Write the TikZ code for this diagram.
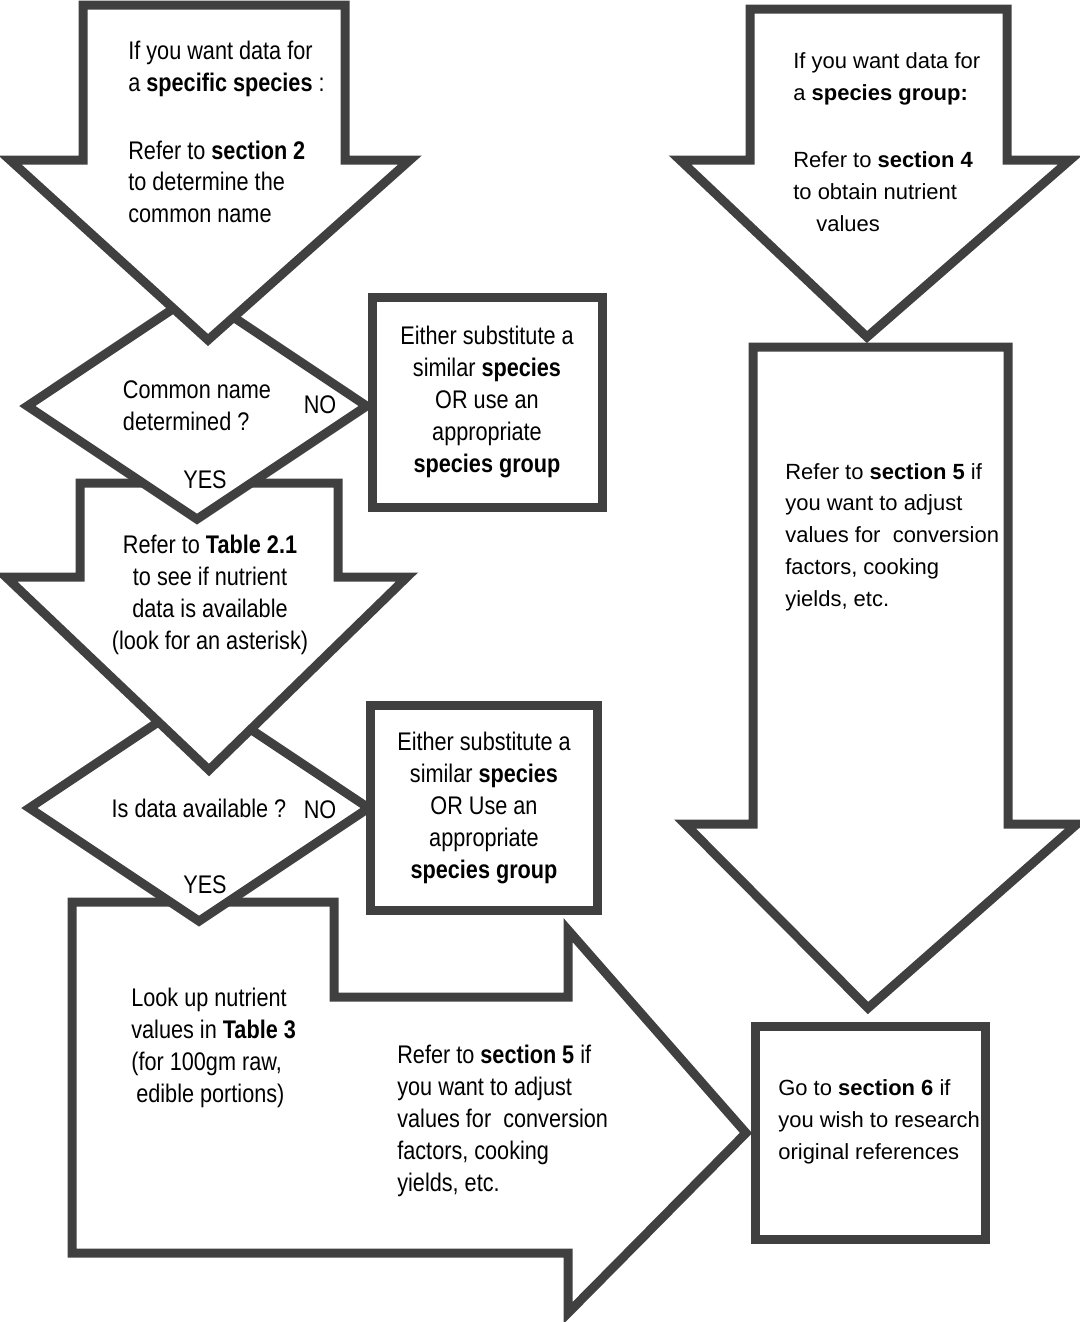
\documentclass[tikz,border=0pt]{standalone}
\usepackage{fontspec}
\setmainfont{Liberation Sans}
\newfontfamily\narrowfont{Liberation Sans}[FakeStretch=0.85]
\newcommand\narrowtext{\narrowfont\fontsize{14.5}{18.1}\selectfont}
\newcommand\widetext{\fontsize{12.5}{18.1}\selectfont}
\usetikzlibrary{shapes.geometric,
                positioning}

\begin{document}
\begin{tikzpicture}[
            x = 0.2mm, y = -0.2mm,
            outline/.style = {draw=black!75, line width=1.8mm, fill=white},
            blockarrow/.style = {outline, line join=miter},
            decision/.style = {outline, diamond, inner sep=0pt,
                    minimum width=68.6mm, minimum height=46mm,
                    font=\narrowtext, align=left},
            altbox/.style = {outline, rectangle, inner sep=0pt,
                    font=\narrowtext, align=center},
            ltext/.style = {font=\narrowtext, align=left, inner sep=0pt, anchor=west},
            rtext/.style = {font=\widetext, align=left, inner sep=0pt, anchor=west},
            answer/.style = {font=\narrowtext, inner sep=0pt}]

        \useasboundingbox (0,0) rectangle (1080,1322);

        % Left column, drawn bottom up so each arrow lies over the next
        \draw [blockarrow] (72,902) -- (334,902) -- (334,997) -- (568,997) -- (568,930)
            -- (746,1133) -- (568,1313) -- (568,1253) -- (72,1253) -- cycle; % lookup
        \node [decision] (avail) at (199,808) {Is data available ?};
        \draw [blockarrow] (80,483) -- (338,483) -- (338,577) -- (407,577)
            -- (209,770) -- (6,577) -- (80,577) -- cycle; % table
        \node [decision] (named) at (197,406) {Common name\\determined ?};
        \draw [blockarrow] (83,5) -- (345,5) -- (345,160) -- (410,160)
            -- (208,340) -- (10,160) -- (83,160) -- cycle; % specific

        \node [ltext] (spec-txt) at (128,132)
            {If you want data for\\a \textbf{specific species} :\\[7.2mm]
             Refer to \textbf{section 2}\\to determine the\\common name};
        \node [ltext, align=center, anchor=center] (table-txt) at (210,595)
            {Refer to \textbf{Table 2.1}\\to see if nutrient\\data is available\\(look for an asterisk)};
        \node [ltext] (look-txt) at (131,1048)
            {Look up nutrient\\values in \textbf{Table 3}\\(for 100gm raw,\\\hspace*{1mm}edible portions)};
        \node [ltext] (adjust-txt) at (397,1121)
            {Refer to \textbf{section 5} if\\you want to adjust\\values for~ conversion\\factors, cooking\\yields, etc.};

        \node [answer] (no-a) at (320,405) {NO};
        \node [answer] (yes-a) at (205,480) {YES};
        \node [answer] (no-b) at (320,810) {NO};
        \node [answer] (yes-b) at (205,885) {YES};

        % Substitutes
        \node [altbox, minimum width=46mm, minimum height=42mm] (subst-a) at (487,402)
            {Either substitute a\\similar \textbf{species}\\OR use an\\appropriate\\\textbf{species group}};
        \node [altbox, minimum width=45.4mm, minimum height=41mm] (subst-b) at (484,808)
            {Either substitute a\\similar \textbf{species}\\OR Use an\\appropriate\\\textbf{species group}};

        % Right column
        \node [altbox, minimum width=46mm, minimum height=42.6mm] (orig) at (870,1133) {};
        \draw [blockarrow] (753,347) -- (1008,347) -- (1008,824) -- (1077,824)
            -- (868,1008) -- (685,824) -- (753,824) -- cycle; % adjust
        \draw [blockarrow] (750,9) -- (1007,9) -- (1007,160) -- (1070,160)
            -- (867,337) -- (680,160) -- (750,160) -- cycle; % group

        \node [rtext] (group-txt) at (793,142)
            {If you want data for\\a \textbf{species group:}\\[7.2mm]
             Refer to \textbf{section 4}\\to obtain nutrient\\\hspace*{4.6mm}values};
        \node [rtext] (conv-txt) at (785,537)
            {Refer to \textbf{section 5} if\\you want to adjust\\values for~ conversion\\factors, cooking\\yields, etc.};
        \node [rtext] (orig-txt) at (778,1122)
            {Go to \textbf{section 6} if\\you wish to research\\original references};
    \end{tikzpicture}
\end{document}
